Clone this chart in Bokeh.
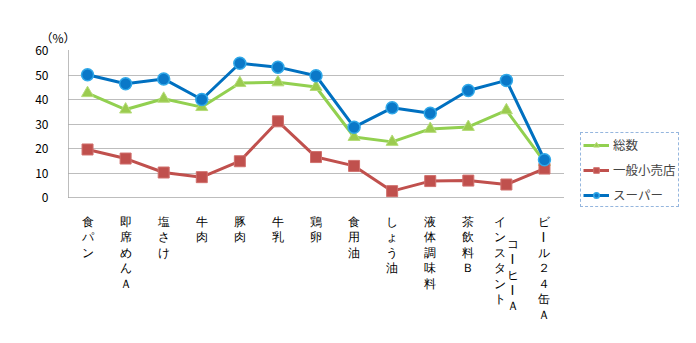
import math
from bokeh.plotting import figure
from bokeh.models import (ColumnDataSource, LabelSet, Legend, LegendItem, Title,
                          Range1d, FixedTicker)
from bokeh.embed import file_html
from bokeh.resources import INLINE

# ---- data ----
categories = ["食パン", "即席めんＡ", "塩さけ", "牛肉", "豚肉", "牛乳", "鶏卵",
              "食用油", "しょう油", "液体調味料", "茶飲料Ｂ", "インスタントコーヒーＡ", "ビール２４缶Ａ"]
# label columns (vertical text, one entry per column)
label_columns = [["食パン"], ["即席めんＡ"], ["塩さけ"], ["牛肉"], ["豚肉"], ["牛乳"], ["鶏卵"],
                 ["食用油"], ["しょう油"], ["液体調味料"], ["茶飲料Ｂ"],
                 ["インスタント", "コーヒーＡ"], ["ビール２４缶Ａ"]]
series_names = ["総数", "一般小売店", "スーパー"]
total = [42.6, 35.9, 40.3, 36.9, 46.7, 47.0, 45.1, 24.7, 22.7, 28.0, 28.8, 35.6, 14.5]
small_store = [19.6, 15.9, 10.2, 8.3, 14.8, 31.1, 16.5, 12.9, 2.6, 6.7, 6.9, 5.3, 11.8]
supermarket = [50.1, 46.4, 48.4, 40.0, 54.8, 53.2, 49.7, 28.7, 36.6, 34.4, 43.7, 47.8, 15.4]
y_ticks = [0, 10, 20, 30, 40, 50, 60]
unit_label = "（%）"

FONT = "Noto Sans CJK JP"

# category slots on a numeric axis (one unit per category, centred at i + 0.5)
n_cat = len(categories)
xpos = [i + 0.5 for i in range(n_cat)]

# frame extends right (legend) and down (vertical category labels)
y_min, y_max = 0, 60
px_per_unit_y = 147 / (y_max - y_min)
px_per_cat = 495 / n_cat
x_end = 628 / px_per_cat
y_start = y_min - 146 / px_per_unit_y

p = figure(x_range=Range1d(0, x_end), y_range=Range1d(y_start, y_max),
           width=696, height=343, output_backend="svg", toolbar_location=None,
           min_border_left=68, min_border_right=0, min_border_top=50, min_border_bottom=0)
p.outline_line_color = None
p.background_fill_color = "white"
p.border_fill_color = "white"

p.xaxis.visible = False
p.xgrid.visible = False
p.ygrid.ticker = FixedTicker(ticks=y_ticks)
p.ygrid.cross_bounds = (0, n_cat)
p.ygrid.grid_line_color = "#7A7A7A"
p.ygrid.grid_line_dash = "1 1"
p.ygrid.grid_line_width = 1

p.yaxis.ticker = FixedTicker(ticks=y_ticks)
p.yaxis.bounds = (y_min, y_max)
p.yaxis.major_tick_line_color = None
p.yaxis.minor_tick_line_color = None
p.yaxis.axis_line_color = "#7A7A7A"
p.yaxis.axis_line_dash = "1 1"
p.yaxis.major_label_standoff = 14
p.yaxis.major_label_text_font = FONT
p.yaxis.major_label_text_font_size = "12px"
p.yaxis.major_label_text_color = "black"

# ---- series ----
g_line = p.line(xpos, total, line_width=3, color="#92D050")
g_sc = p.scatter(xpos, total, marker="triangle", size=12,
                 fill_color="#9BCB4F", line_color="#B5DC78", line_width=1)
r_line = p.line(xpos, small_store, line_width=3, color="#C0504D")
r_sc = p.scatter(xpos, small_store, marker="square", size=11,
                 fill_color="#C0504D", line_color="#D0706D", line_width=1)
b_line = p.line(xpos, supermarket, line_width=3, color="#0070C0")
b_sc = p.scatter(xpos, supermarket, marker="circle", size=12,
                 fill_color="#0A78C8", line_color="#30A8E8", line_width=1.5)

legend = Legend(items=[LegendItem(label=series_names[0], renderers=[g_line, g_sc]),
                       LegendItem(label=series_names[1], renderers=[r_line, r_sc]),
                       LegendItem(label=series_names[2], renderers=[b_line, b_sc])],
                location=(512, 136), orientation="vertical",
                glyph_width=26, glyph_height=14, label_height=14, spacing=6, padding=2,
                margin=0, label_standoff=4,
                label_text_font=FONT, label_text_font_size="12.5px",
                border_line_color="#2E6FBF", border_line_width=1, border_line_dash="1 1",
                background_fill_color="white", background_fill_alpha=1)
p.add_layout(legend, "center")

# ---- vertical category labels ----
xs, chars, xoffs, yoffs, angles = [], [], [], [], []
for x, cols in zip(xpos, label_columns):
    n = len(cols)
    for c, col in enumerate(cols):
        for j, ch in enumerate(col):
            xs.append(x)
            chars.append(ch)
            xoffs.append((c - (n - 1) / 2) * 13.5)
            yoffs.append(-(24 + c * 22 + j * 15.5))
            angles.append(math.pi / 2 if ch == "ー" else 0.0)
src = ColumnDataSource(dict(x=xs, y=[y_min] * len(xs), text=chars, xo=xoffs, yo=yoffs, ang=angles))
labels = LabelSet(x="x", y="y", text="text", x_offset="xo", y_offset="yo", angle="ang",
                  source=src, text_align="center", text_baseline="middle",
                  text_font=FONT, text_font_size="12px", text_color="black")
p.add_layout(labels)

p.add_layout(Title(text=unit_label, align="left", offset=-28, standoff=9,
                   text_font=FONT, text_font_size="12px", text_font_style="normal",
                   text_color="black"), "above")

open("out.html", "w").write(file_html(p, INLINE))
